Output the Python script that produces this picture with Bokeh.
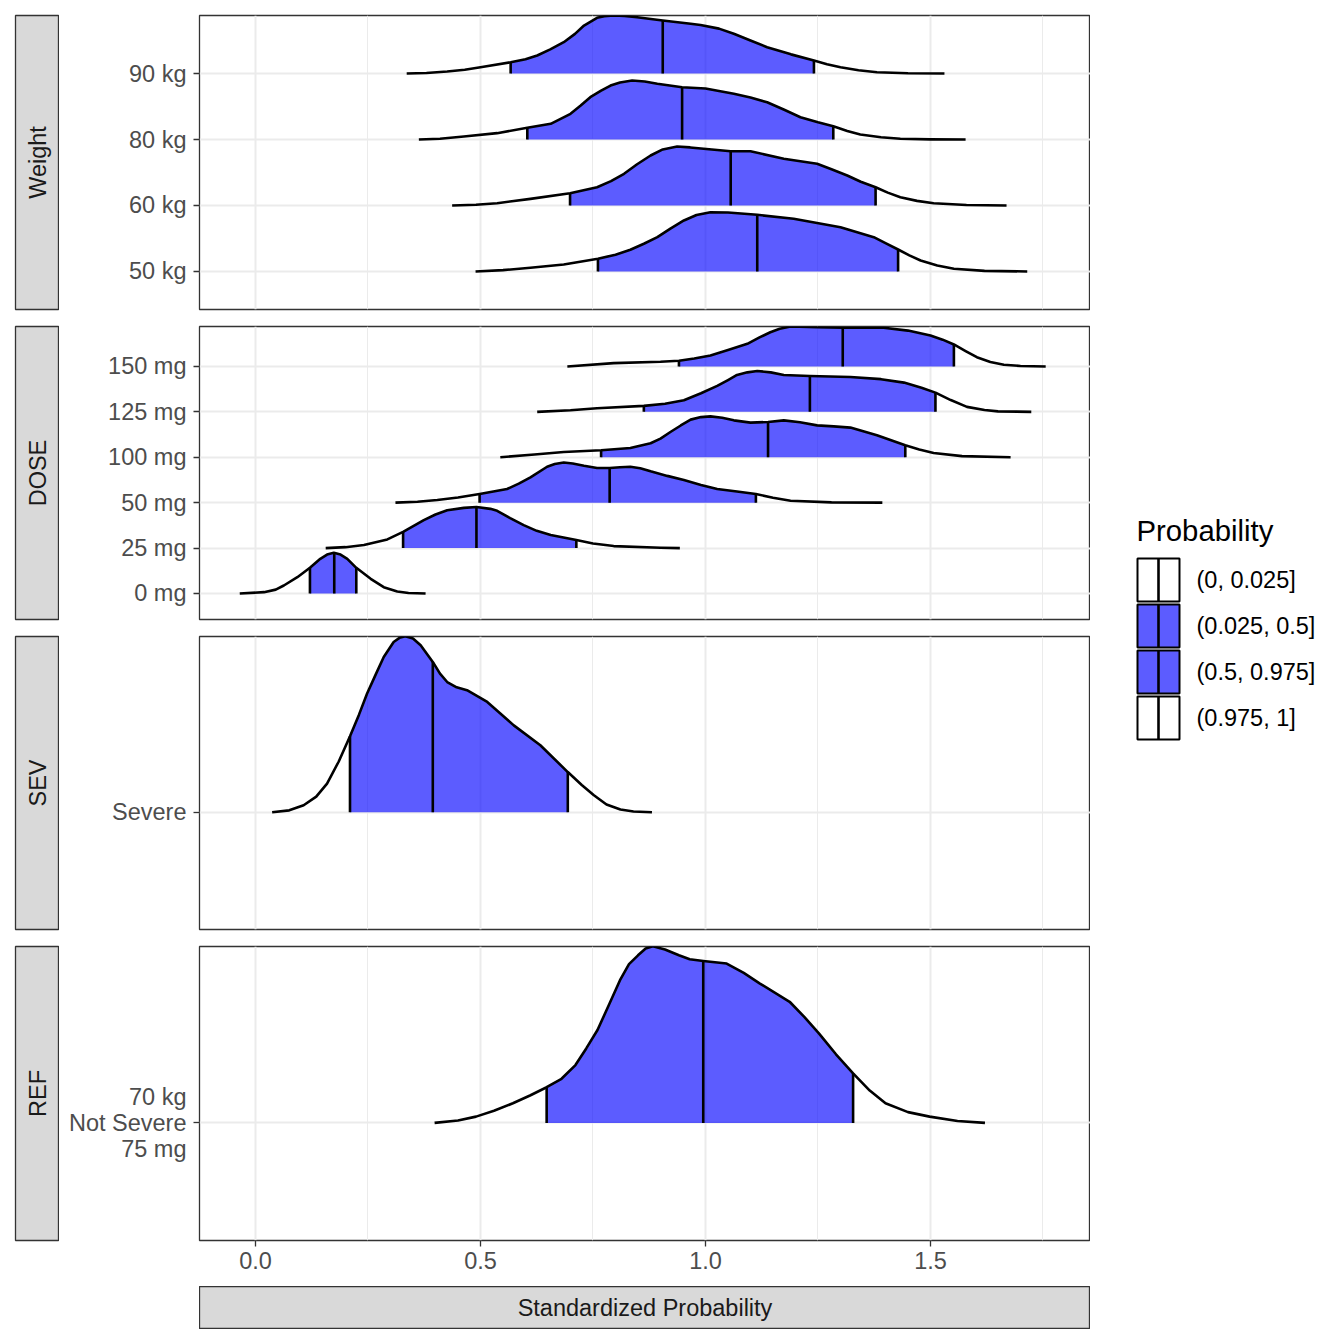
import numpy as np
from bokeh.plotting import figure
from bokeh.models import Range1d, FixedTicker, Spacer, NumeralTickFormatter
from bokeh.layouts import row, column
from bokeh.embed import file_html
from bokeh.resources import INLINE
from bokeh.core.properties import value

FONT = "Liberation Sans"

# ---------------- data ----------------
weight_levels = ["50 kg", "60 kg", "80 kg", "90 kg"]
dose_levels = ["0 mg", "25 mg", "50 mg", "100 mg", "125 mg", "150 mg"]
sev_levels = ["Severe"]
ref_levels = ["70 kg\nNot Severe\n75 mg"]

# density curves: x values and ridge heights (in row units); quantiles 2.5%, 50%, 97.5%
w50_x = [0.489, 0.55, 0.611, 0.685, 0.761, 0.80, 0.833, 0.863, 0.893, 0.922, 0.952, 0.98, 1.011, 1.05, 1.115, 1.196, 1.30, 1.374, 1.40, 1.428, 1.453, 1.478, 1.515, 1.552, 1.62, 1.715]
w50_h = [0, 0.02, 0.056, 0.106, 0.192, 0.255, 0.329, 0.42, 0.52, 0.65, 0.773, 0.855, 0.898, 0.894, 0.859, 0.798, 0.671, 0.52, 0.43, 0.333, 0.245, 0.167, 0.09, 0.041, 0.01, 0]
w50_q = [0.761, 1.115, 1.428]

w60_x = [0.437, 0.49, 0.537, 0.611, 0.699, 0.759, 0.79, 0.819, 0.848, 0.878, 0.905, 0.937, 0.966, 0.996, 1.056, 1.10, 1.174, 1.248, 1.28, 1.315, 1.345, 1.378, 1.405, 1.433, 1.47, 1.507, 1.58, 1.669]
w60_h = [0, 0.012, 0.035, 0.10, 0.186, 0.277, 0.37, 0.48, 0.625, 0.758, 0.85, 0.894, 0.88, 0.859, 0.823, 0.823, 0.708, 0.632, 0.55, 0.455, 0.36, 0.277, 0.195, 0.126, 0.07, 0.035, 0.008, 0]
w60_q = [0.699, 1.056, 1.378]

w80_x = [0.363, 0.41, 0.463, 0.537, 0.604, 0.656, 0.70, 0.722, 0.744, 0.768, 0.789, 0.81, 0.837, 0.865, 0.893, 0.948, 1.0, 1.063, 1.10, 1.137, 1.175, 1.211, 1.25, 1.284, 1.315, 1.344, 1.39, 1.433, 1.50, 1.578]
w80_h = [0, 0.012, 0.045, 0.096, 0.177, 0.238, 0.389, 0.51, 0.641, 0.74, 0.818, 0.865, 0.894, 0.878, 0.844, 0.792, 0.773, 0.692, 0.635, 0.565, 0.45, 0.338, 0.26, 0.202, 0.13, 0.076, 0.035, 0.011, 0.002, 0]
w80_q = [0.604, 0.948, 1.284]

w90_x = [0.336, 0.38, 0.426, 0.465, 0.50, 0.567, 0.60, 0.626, 0.655, 0.685, 0.71, 0.73, 0.759, 0.775, 0.796, 0.82, 0.848, 0.905, 0.967, 0.989, 1.03, 1.063, 1.10, 1.137, 1.19, 1.241, 1.27, 1.30, 1.34, 1.381, 1.45, 1.531]
w90_h = [0, 0.008, 0.03, 0.058, 0.095, 0.171, 0.215, 0.273, 0.365, 0.474, 0.60, 0.727, 0.844, 0.868, 0.879, 0.872, 0.853, 0.803, 0.753, 0.735, 0.68, 0.602, 0.50, 0.398, 0.29, 0.197, 0.14, 0.095, 0.05, 0.02, 0.005, 0]
w90_q = [0.567, 0.905, 1.241]

d0_x = [-0.035, 0.019, 0.045, 0.063, 0.093, 0.121, 0.144, 0.159, 0.174, 0.189, 0.204, 0.224, 0.256, 0.285, 0.315, 0.34, 0.378]
d0_h = [0, 0.029, 0.085, 0.176, 0.358, 0.565, 0.763, 0.857, 0.895, 0.857, 0.763, 0.565, 0.323, 0.138, 0.044, 0.012, 0]
d0_q = [0.121, 0.175, 0.224]

d25_x = [0.156, 0.20, 0.241, 0.293, 0.328, 0.374, 0.40, 0.426, 0.463, 0.491, 0.522, 0.537, 0.566, 0.596, 0.625, 0.656, 0.713, 0.75, 0.796, 0.90, 0.943]
d25_h = [0, 0.02, 0.066, 0.191, 0.358, 0.615, 0.74, 0.835, 0.886, 0.905, 0.864, 0.82, 0.66, 0.505, 0.38, 0.286, 0.176, 0.10, 0.044, 0.007, 0]
d25_q = [0.328, 0.491, 0.713]

d50_x = [0.311, 0.36, 0.404, 0.45, 0.498, 0.559, 0.585, 0.611, 0.648, 0.665, 0.685, 0.705, 0.730, 0.759, 0.787, 0.81, 0.833, 0.855, 0.878, 0.915, 0.952, 0.99, 1.026, 1.07, 1.112, 1.15, 1.189, 1.280, 1.393]
d50_h = [0, 0.02, 0.059, 0.115, 0.191, 0.301, 0.42, 0.556, 0.791, 0.85, 0.886, 0.862, 0.813, 0.763, 0.763, 0.78, 0.791, 0.76, 0.69, 0.59, 0.499, 0.39, 0.301, 0.245, 0.191, 0.11, 0.044, 0.007, 0]
d50_q = [0.498, 0.787, 1.112]

d100_x = [0.544, 0.62, 0.685, 0.768, 0.833, 0.878, 0.900, 0.922, 0.945, 0.967, 0.99, 1.011, 1.037, 1.063, 1.100, 1.139, 1.174, 1.21, 1.248, 1.285, 1.322, 1.381, 1.444, 1.475, 1.507, 1.57, 1.678]
d100_h = [0, 0.06, 0.116, 0.154, 0.204, 0.308, 0.411, 0.556, 0.70, 0.829, 0.885, 0.901, 0.87, 0.813, 0.763, 0.776, 0.813, 0.77, 0.703, 0.68, 0.653, 0.484, 0.264, 0.17, 0.095, 0.025, 0]
d100_q = [0.768, 1.139, 1.444]

d125_x = [0.626, 0.70, 0.759, 0.863, 0.91, 0.952, 0.99, 1.026, 1.05, 1.070, 1.093, 1.115, 1.145, 1.174, 1.232, 1.322, 1.39, 1.441, 1.48, 1.511, 1.545, 1.581, 1.62, 1.650, 1.724]
d125_h = [0, 0.035, 0.081, 0.132, 0.18, 0.257, 0.41, 0.571, 0.70, 0.813, 0.87, 0.901, 0.87, 0.813, 0.791, 0.769, 0.72, 0.644, 0.53, 0.424, 0.26, 0.110, 0.04, 0.011, 0]
d125_q = [0.863, 1.232, 1.511]

d150_x = [0.693, 0.796, 0.900, 0.941, 0.975, 1.011, 1.05, 1.093, 1.12, 1.144, 1.165, 1.189, 1.248, 1.305, 1.396, 1.45, 1.500, 1.527, 1.552, 1.578, 1.603, 1.633, 1.663, 1.70, 1.756]
d150_h = [0, 0.073, 0.103, 0.125, 0.175, 0.242, 0.36, 0.499, 0.64, 0.754, 0.83, 0.879, 0.864, 0.851, 0.851, 0.79, 0.681, 0.59, 0.484, 0.34, 0.204, 0.10, 0.037, 0.01, 0]
d150_q = [0.941, 1.305, 1.552]

sev_x = [0.037, 0.075, 0.107, 0.135, 0.159, 0.185, 0.210, 0.230, 0.248, 0.268, 0.285, 0.307, 0.320, 0.333, 0.350, 0.367, 0.394, 0.41, 0.426, 0.447, 0.470, 0.515, 0.574, 0.633, 0.694, 0.725, 0.752, 0.78, 0.811, 0.84, 0.881]
sev_h = [0, 0.01, 0.036, 0.08, 0.147, 0.26, 0.389, 0.50, 0.608, 0.71, 0.795, 0.872, 0.893, 0.901, 0.89, 0.855, 0.770, 0.71, 0.667, 0.64, 0.625, 0.565, 0.445, 0.343, 0.206, 0.14, 0.087, 0.04, 0.014, 0.004, 0]
sev_q = [0.210, 0.394, 0.694]

ref_x = [0.398, 0.45, 0.490, 0.530, 0.572, 0.610, 0.647, 0.680, 0.711, 0.735, 0.760, 0.785, 0.810, 0.830, 0.850, 0.867, 0.883, 0.91, 0.941, 0.965, 0.995, 1.047, 1.085, 1.121, 1.187, 1.22, 1.252, 1.29, 1.328, 1.365, 1.400, 1.45, 1.498, 1.56, 1.621]
ref_h = [0, 0.012, 0.032, 0.062, 0.100, 0.14, 0.182, 0.225, 0.295, 0.38, 0.474, 0.60, 0.728, 0.81, 0.855, 0.89, 0.901, 0.885, 0.855, 0.835, 0.826, 0.813, 0.765, 0.711, 0.618, 0.54, 0.457, 0.35, 0.253, 0.165, 0.100, 0.055, 0.032, 0.01, 0]
ref_q = [0.647, 0.995, 1.328]

strip_labels = ["Weight", "DOSE", "SEV", "REF"]
x_title = "Standardized Probability"
x_ticks = [0.0, 0.5, 1.0, 1.5]
x_minor = [0.25, 0.75, 1.25, 1.75]
legend_title = "Probability"
legend_labels = ["(0, 0.025]", "(0.025, 0.5]", "(0.5, 0.975]", "(0.975, 1]"]
legend_fills = ["white", "blue", "blue", "white"]

# ---------------- styling ----------------
XMIN, XMAX = -0.12444, 1.85556
FILL = "blue"
FILL_ALPHA = 0.64
LW = 2.6
GRID = "#EBEBEB"
BORDER = "#333333"
STRIP_BG = "#D9D9D9"
TXT = "23.5px"


def make_panel(levels, ridges, yr, fh, top, bottom, show_x):
    p = figure(frame_width=891, frame_height=fh,
               x_range=Range1d(XMIN, XMAX), y_range=Range1d(*yr),
               output_backend="svg", toolbar_location=None, title=None,
               x_axis_location="below" if show_x else None,
               y_axis_location="left",
               min_border_left=140, min_border_right=0,
               min_border_top=top, min_border_bottom=bottom)
    p.background_fill_color = "white"
    p.border_fill_color = "white"
    p.outline_line_color = BORDER
    p.outline_line_width = 1.3

    pos = list(range(1, len(levels) + 1))
    xt = FixedTicker(ticks=x_ticks, minor_ticks=x_minor)
    p.xgrid.ticker = xt
    p.ygrid.ticker = FixedTicker(ticks=pos)
    p.xgrid.grid_line_color = GRID
    p.xgrid.grid_line_width = 2
    p.xgrid.minor_grid_line_color = GRID
    p.xgrid.minor_grid_line_width = 1
    p.ygrid.grid_line_color = GRID
    p.ygrid.grid_line_width = 2

    ya = p.yaxis[0]
    ya.ticker = FixedTicker(ticks=pos)
    ya.major_label_overrides = {i: lab for i, lab in zip(pos, levels)}
    ya.axis_line_color = None
    ya.major_tick_line_color = BORDER
    ya.major_tick_line_width = 1.3
    ya.major_tick_out = 6
    ya.major_tick_in = 0
    ya.minor_tick_line_color = None
    ya.major_label_standoff = 7
    ya.major_label_text_font = FONT
    ya.major_label_text_font_size = TXT
    ya.major_label_text_color = "#4D4D4D"
    ya.major_label_text_line_height = 0.99

    if show_x:
        xa = p.xaxis[0]
        xa.ticker = xt
        xa.formatter = NumeralTickFormatter(format="0.0")
        xa.axis_line_color = None
        xa.major_tick_line_color = BORDER
        xa.major_tick_line_width = 1.3
        xa.major_tick_out = 6
        xa.major_tick_in = 0
        xa.minor_tick_line_color = None
        xa.major_label_standoff = 5
        xa.major_label_text_font = FONT
        xa.major_label_text_font_size = TXT
        xa.major_label_text_color = "#4D4D4D"

    # draw from top row to bottom row so lower ridges sit in front
    for k in range(len(ridges) - 1, -1, -1):
        xs, hs, qs = ridges[k]
        y0 = k + 1
        xs = np.asarray(xs, float)
        hs = np.asarray(hs, float)
        q0, q1, q2 = qs
        inside = (xs > q0) & (xs < q2)
        px = [q0, q0] + list(xs[inside]) + [q2, q2]
        py = [y0, y0 + np.interp(q0, xs, hs)] + list(y0 + hs[inside]) + [y0 + np.interp(q2, xs, hs), y0]
        p.patch(px, py, fill_color=FILL, fill_alpha=FILL_ALPHA, line_color=None)
        p.line(list(xs), list(y0 + hs), line_color="black", line_width=LW, line_join="round")
        p.segment(x0=qs, y0=[y0] * 3, x1=qs, y1=[y0 + np.interp(q, xs, hs) for q in qs],
                  line_color="black", line_width=LW)
    return p


def make_strip(label, fh, top, bottom, horizontal=False, fw=44, left=15):
    s = figure(frame_width=fw, frame_height=fh, x_range=Range1d(0, 1), y_range=Range1d(0, 1),
               output_backend="svg", toolbar_location=None, title=None,
               x_axis_location=None, y_axis_location=None,
               min_border_left=left, min_border_right=0,
               min_border_top=top, min_border_bottom=bottom)
    s.xgrid.visible = False
    s.ygrid.visible = False
    s.background_fill_color = STRIP_BG
    s.border_fill_color = "white"
    s.outline_line_color = BORDER
    s.outline_line_width = 1.3
    s.text(x=[0.5], y=[0.5], text=[label], angle=0 if horizontal else np.pi / 2,
           text_align="center", text_baseline="middle",
           text_font=value(FONT), text_font_size=TXT, text_color="#1A1A1A")
    return s


panels = [
    (weight_levels, [(w50_x, w50_h, w50_q), (w60_x, w60_h, w60_q), (w80_x, w80_h, w80_q), (w90_x, w90_h, w90_q)],
     (0.424, 4.879), 294, 15, 8, False),
    (dose_levels, [(d0_x, d0_h, d0_q), (d25_x, d25_h, d25_q), (d50_x, d50_h, d50_q),
                   (d100_x, d100_h, d100_q), (d125_x, d125_h, d125_q), (d150_x, d150_h, d150_q)],
     (0.427, 6.88), 293, 9, 8, False),
    (sev_levels, [(sev_x, sev_h, sev_q)], (0.4, 1.9), 293, 9, 8, False),
    (ref_levels, [(ref_x, ref_h, ref_q)], (0.4, 1.9), 294, 9, 46, True),
]

rows = []
for lab, (levels, ridges, yr, fh, top, bottom, show_x) in zip(strip_labels, panels):
    s = make_strip(lab, fh, top, bottom)
    p = make_panel(levels, ridges, yr, fh, top, bottom, show_x)
    rows.append(row(s, p, spacing=0))

bstrip = make_strip(x_title, 43, 0, 0, horizontal=True, fw=891, left=0)
rows.append(row(Spacer(width=199, height=43), bstrip, spacing=0))
left_block = column(*rows, spacing=0)

# ---------------- legend ----------------
LH = 1329
lg = figure(frame_width=240, frame_height=LH, x_range=Range1d(0, 240), y_range=Range1d(LH, 0),
            output_backend="svg", toolbar_location=None, title=None,
            x_axis_location=None, y_axis_location=None,
            min_border_left=0, min_border_right=0, min_border_top=0, min_border_bottom=0)
lg.xgrid.visible = False
lg.ygrid.visible = False
lg.outline_line_color = None
lg.background_fill_color = "white"
lg.border_fill_color = "white"

key_w, key_h, key_step = 42, 43, 46
key_x = 68
key_top0 = 558
n = len(legend_labels)
centers = [key_top0 + key_h / 2 + i * key_step for i in range(n)]
alphas = [FILL_ALPHA if c != "white" else 1.0 for c in legend_fills]
lg.rect(x=[key_x] * n, y=centers, width=key_w, height=key_h,
        fill_color=legend_fills, fill_alpha=alphas, line_color="black", line_width=2)
lg.segment(x0=[key_x] * n, y0=[c - key_h / 2 for c in centers],
           x1=[key_x] * n, y1=[c + key_h / 2 for c in centers], line_color="black", line_width=LW)
lg.text(x=[106] * n, y=centers, text=legend_labels, text_align="left", text_baseline="middle",
        text_font=value(FONT), text_font_size=TXT, text_color="black")
lg.text(x=[46], y=[530], text=[legend_title], text_align="left", text_baseline="middle",
        text_font=value(FONT), text_font_size="29.3px", text_color="black")

layout = row(left_block, lg, spacing=0)

open("out.html", "w").write(file_html(layout, INLINE))
